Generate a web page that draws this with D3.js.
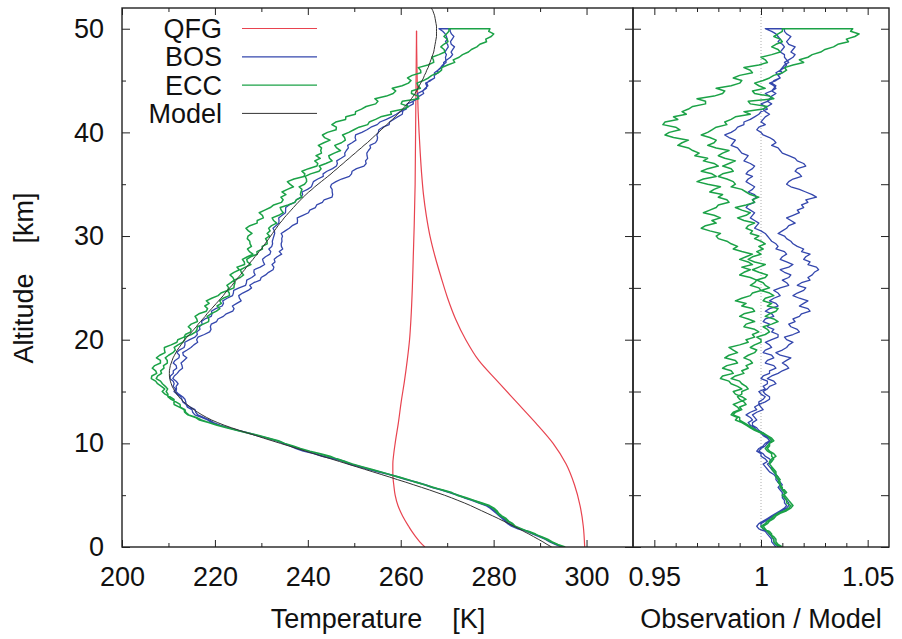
<!DOCTYPE html>
<html>
<head>
<meta charset="utf-8">
<script src="https://cdn.jsdelivr.net/npm/d3@7"></script>
<style>
body { margin: 0; background: #fff; }
svg text { font-family: "Liberation Sans", Arial, Helvetica, sans-serif; font-size: 27px; fill: #111; }
</style>
</head>
<body>
<svg id="chart" width="902" height="639"></svg>
<script>
// altitude grid (km), 0.25 km steps
const altitudeKm = [
  0,0.25,0.5,0.75,1,1.25,1.5,1.75,2,2.25,2.5,2.75,3,3.25,3.5,3.75,4,4.25,4.5,4.75,
  5,5.25,5.5,5.75,6,6.25,6.5,6.75,7,7.25,7.5,7.75,8,8.25,8.5,8.75,9,9.25,9.5,9.75,
  10,10.25,10.5,10.75,11,11.25,11.5,11.75,12,12.25,12.5,12.75,13,13.25,13.5,13.75,14,14.25,14.5,14.75,
  15,15.25,15.5,15.75,16,16.25,16.5,16.75,17,17.25,17.5,17.75,18,18.25,18.5,18.75,19,19.25,19.5,19.75,
  20,20.25,20.5,20.75,21,21.25,21.5,21.75,22,22.25,22.5,22.75,23,23.25,23.5,23.75,24,24.25,24.5,24.75,
  25,25.25,25.5,25.75,26,26.25,26.5,26.75,27,27.25,27.5,27.75,28,28.25,28.5,28.75,29,29.25,29.5,29.75,
  30,30.25,30.5,30.75,31,31.25,31.5,31.75,32,32.25,32.5,32.75,33,33.25,33.5,33.75,34,34.25,34.5,34.75,
  35,35.25,35.5,35.75,36,36.25,36.5,36.75,37,37.25,37.5,37.75,38,38.25,38.5,38.75,39,39.25,39.5,39.75,
  40,40.25,40.5,40.75,41,41.25,41.5,41.75,42,42.25,42.5,42.75,43,43.25,43.5,43.75,44,44.25,44.5,44.75,
  45,45.25,45.5,45.75,46,46.25,46.5,46.75,47,47.25,47.5,47.75,48,48.25,48.5,48.75,49,49.25,49.5,49.75,
  50,50.25,50.5,50.75,51,51.25,51.5,51.75,52
];

// model temperature (K) on the grid above
const modelTemp = [
  292.5,291.5,290.6,289.6,288.6,287.6,286.5,285.5,284.4,283.3,282.1,281.0,279.8,278.6,277.4,276.2,275.0,273.7,272.3,270.9,
  269.4,267.8,266.2,264.5,262.8,261.1,259.3,257.6,255.8,254.0,252.2,250.4,248.6,246.8,245.0,243.1,241.3,239.5,237.7,235.9,
  234.1,232.3,230.5,228.8,227.0,225.3,223.6,222.0,220.6,219.3,218.2,217.2,216.3,215.5,214.7,214.0,213.3,212.7,212.2,211.8,
  211.4,211.1,210.8,210.6,210.4,210.3,210.2,210.2,210.2,210.3,210.4,210.6,210.8,211.0,211.3,211.6,211.9,212.3,212.7,213.1,
  213.5,214.0,214.5,215.0,215.5,216.0,216.4,216.9,217.4,217.9,218.3,218.8,219.3,219.8,220.3,220.8,221.3,221.8,222.2,222.7,
  223.2,223.7,224.1,224.6,225.0,225.5,225.9,226.4,226.8,227.3,227.7,228.2,228.6,229.1,229.5,230.0,230.4,230.8,231.2,231.6,
  232.0,232.4,232.8,233.2,233.6,234.0,234.5,234.9,235.4,235.9,236.4,236.9,237.4,237.9,238.5,239.0,239.6,240.2,240.9,241.5,
  242.2,242.9,243.6,244.3,245.0,245.6,246.3,246.9,247.6,248.2,248.9,249.5,250.2,250.8,251.5,252.1,252.8,253.4,254.0,254.6,
  255.2,255.8,256.4,257.0,257.6,258.2,258.8,259.3,259.9,260.4,260.9,261.4,261.9,262.3,262.7,263.1,263.4,263.7,264.0,264.3,
  264.6,264.9,265.1,265.4,265.6,265.9,266.1,266.3,266.5,266.7,266.9,267.1,267.2,267.3,267.4,267.5,267.6,267.7,267.7,267.7,
  267.7,267.7,267.6,267.5,267.4,267.3,267.1,266.9,266.6
];

// observation / model, 0..50 km (ascent and descent legs)
const eccAscent = [
  1.009,1.007,1.006,1.006,1.005,1.005,1.004,1.001,1.000,1.002,1.003,1.005,1.006,1.008,1.011,1.013,1.014,1.012,1.012,1.011,
  1.010,1.012,1.011,1.009,1.009,1.009,1.008,1.007,1.007,1.006,1.005,1.005,1.004,1.005,1.006,1.005,1.005,1.003,1.002,1.003,
  1.004,1.006,1.005,1.003,1.000,0.997,0.995,0.993,0.991,0.988,0.989,0.986,0.987,0.990,0.989,0.987,0.990,0.993,0.991,0.988,
  0.987,0.991,0.989,0.986,0.985,0.981,0.982,0.987,0.986,0.982,0.984,0.989,0.988,0.983,0.985,0.989,0.987,0.985,0.990,0.994,
  0.993,0.997,0.996,0.999,0.997,0.992,0.993,0.997,0.994,0.990,0.992,0.997,0.996,0.991,0.993,0.988,0.991,0.995,0.996,1.000,
  0.999,0.995,0.997,0.998,0.995,0.990,0.992,0.995,0.991,0.996,0.994,0.990,0.993,0.996,0.991,0.987,0.989,0.986,0.984,0.980,
  0.979,0.981,0.976,0.972,0.974,0.979,0.977,0.981,0.978,0.973,0.976,0.979,0.980,0.985,0.984,0.980,0.982,0.976,0.978,0.981,
  0.975,0.970,0.973,0.979,0.977,0.972,0.975,0.980,0.978,0.973,0.975,0.969,0.971,0.968,0.966,0.961,0.963,0.966,0.959,0.955,
  0.957,0.962,0.960,0.954,0.955,0.961,0.959,0.965,0.963,0.966,0.968,0.974,0.974,0.970,0.978,0.982,0.983,0.979,0.986,0.990,
  0.991,0.987,0.990,0.996,0.995,0.992,0.999,1.003,1.002,1.000,1.005,1.009,1.008,1.005,1.007,1.010,1.009,1.006,1.008,1.010,
  1.010
];
const eccDescent = [
  1.010,1.008,1.007,1.007,1.006,1.004,1.003,1.002,1.001,1.003,1.004,1.006,1.007,1.009,1.012,1.014,1.015,1.014,1.013,1.012,
  1.011,1.011,1.010,1.010,1.009,1.008,1.009,1.008,1.007,1.007,1.006,1.005,1.004,1.004,1.005,1.007,1.006,1.004,1.003,1.004,
  1.004,1.005,1.004,1.003,1.001,0.998,0.996,0.994,0.992,0.990,0.990,0.987,0.988,0.991,0.990,0.993,0.992,0.990,0.989,0.991,
  0.991,0.994,0.993,0.991,0.990,0.986,0.988,0.992,0.991,0.994,0.993,0.996,0.995,0.992,0.994,0.997,0.998,0.995,0.997,1.000,
  1.000,0.998,1.002,1.004,1.003,1.001,1.005,1.008,1.006,1.002,1.004,1.007,1.008,1.003,1.005,1.001,1.002,1.006,1.004,1.000,
  1.004,1.002,1.001,0.998,1.002,1.003,0.999,0.996,0.999,1.002,0.997,0.994,0.996,1.000,0.998,1.001,0.999,1.002,1.000,0.997,
  0.999,0.995,0.996,0.993,0.994,0.997,0.992,0.989,0.993,0.995,0.991,0.988,0.993,0.997,0.996,0.999,0.995,0.993,0.991,0.986,
  0.988,0.987,0.984,0.980,0.982,0.987,0.986,0.982,0.985,0.988,0.983,0.980,0.982,0.985,0.979,0.975,0.978,0.979,0.976,0.972,
  0.975,0.977,0.979,0.984,0.983,0.986,0.988,0.995,0.992,1.001,1.003,0.995,0.994,1.006,1.004,0.997,0.996,1.002,0.999,0.997,
  1.001,1.004,1.006,1.010,1.012,1.011,1.015,1.020,1.018,1.022,1.024,1.028,1.030,1.034,1.036,1.041,1.040,1.044,1.046,1.042,
  1.043
];
const bosAscent = [
  1.007,1.006,1.005,1.005,1.004,1.003,1.002,0.999,0.998,0.999,1.001,1.003,1.005,1.007,1.009,1.011,1.012,1.011,1.011,1.010,
  1.010,1.010,1.009,1.008,1.009,1.008,1.007,1.007,1.006,1.004,1.003,1.002,1.001,1.003,1.002,1.000,1.000,0.998,0.999,1.001,
  1.002,1.004,1.003,1.001,1.000,0.998,0.997,0.995,0.994,0.996,0.995,0.993,0.995,0.998,0.997,0.999,0.999,1.001,1.002,1.000,
  0.999,1.002,1.001,1.003,1.003,1.000,1.001,1.004,1.004,1.007,1.006,1.002,1.003,1.006,1.005,1.001,1.002,1.005,1.004,1.002,
  1.005,1.008,1.008,1.005,1.006,1.003,1.004,1.001,1.002,1.006,1.005,1.002,1.004,1.008,1.007,1.004,1.006,1.009,1.008,1.006,
  1.009,1.013,1.012,1.010,1.013,1.014,1.011,1.009,1.013,1.015,1.012,1.009,1.010,1.012,1.011,1.007,1.008,1.007,1.005,1.004,
  1.003,1.002,1.000,0.997,0.998,0.999,0.997,0.995,0.996,0.997,0.995,0.993,0.994,0.997,0.996,0.998,0.997,0.994,0.996,0.997,
  0.995,0.993,0.994,0.996,0.993,0.994,0.996,0.997,0.995,0.992,0.993,0.994,0.991,0.990,0.989,0.986,0.987,0.988,0.985,0.983,
  0.986,0.988,0.989,0.992,0.992,0.995,0.997,0.999,1.000,1.003,1.002,1.000,1.003,1.005,1.004,1.002,1.005,1.007,1.006,1.004,
  1.007,1.009,1.008,1.007,1.009,1.011,1.012,1.011,1.013,1.015,1.016,1.014,1.015,1.016,1.013,1.012,1.013,1.014,1.012,1.011,
  1.011
];
const bosDescent = [
  1.008,1.007,1.006,1.006,1.005,1.004,1.003,1.001,1.000,1.000,1.002,1.004,1.006,1.008,1.010,1.012,1.013,1.013,1.012,1.011,
  1.011,1.011,1.010,1.009,1.010,1.009,1.008,1.008,1.007,1.006,1.005,1.004,1.003,1.005,1.004,1.002,1.001,0.999,1.000,1.002,
  1.003,1.005,1.004,1.002,1.001,0.999,0.998,0.996,0.996,0.998,0.997,0.996,0.998,1.001,1.000,0.999,1.002,1.004,1.004,1.002,
  1.001,1.003,1.004,1.007,1.006,1.003,1.005,1.008,1.010,1.013,1.012,1.010,1.012,1.014,1.009,1.007,1.010,1.012,1.013,1.015,
  1.012,1.011,1.015,1.018,1.017,1.014,1.013,1.016,1.015,1.018,1.019,1.023,1.022,1.018,1.020,1.022,1.018,1.015,1.017,1.020,
  1.021,1.017,1.019,1.023,1.022,1.024,1.025,1.027,1.026,1.022,1.023,1.020,1.021,1.023,1.019,1.020,1.017,1.015,1.014,1.012,
  1.011,1.008,1.010,1.012,1.013,1.016,1.014,1.012,1.015,1.018,1.017,1.020,1.019,1.022,1.021,1.026,1.024,1.021,1.018,1.014,
  1.012,1.013,1.015,1.019,1.018,1.016,1.017,1.021,1.020,1.017,1.016,1.013,1.010,1.009,1.008,1.005,1.007,1.006,1.004,1.001,
  1.000,0.998,0.999,1.002,1.000,1.001,1.002,1.004,1.002,1.001,1.003,1.005,1.003,1.004,1.005,1.007,1.005,1.006,1.007,1.005,
  1.006,1.009,1.008,1.010,1.009,1.010,1.011,1.013,1.012,1.011,1.011,1.009,1.010,1.011,1.010,1.008,1.009,1.008,1.007,1.005,
  1.002
];

// QFG profile: two legs, each listed with rising altitude
const qfgAltUp = [0,0.5,1,1.5,2,3,4,5,6,7,8,9,10,12,14,16,18,20,22,25,28,31,35,40,45,49.8];
const qfgTempUp = [265.2,264.1,263.2,262.4,261.7,260.4,259.4,258.8,258.5,258.3,258.3,258.5,258.8,259.5,260.1,260.8,261.4,261.9,262.2,262.5,262.7,262.9,263.1,263.2,263.3,263.4];
const qfgAltDown = [0,2,4,6,8,10,12,14,16,18,20,22,24,26,28,30,32,34,36,38,40,42,45,49.8];
const qfgTempDown = [299.6,299.3,298.6,297.4,295.6,292.8,289.0,284.9,280.8,276.8,274.0,271.8,270.1,268.7,267.4,266.3,265.5,264.9,264.5,264.2,263.95,263.75,263.55,263.4];

const seriesNames = ['QFG', 'BOS', 'ECC', 'Model'];
const seriesColors = ['#e8434f', '#3447ad', '#1ba247', '#333333'];

const tempMajor = [200, 220, 240, 260, 280, 300];
const tempMinor = [210, 230, 250, 270, 290];
const ratioMajor = [0.95, 1, 1.05];
const ratioMinor = [0.96, 0.97, 0.98, 0.99, 1.01, 1.02, 1.03, 1.04];
const altMajor = [0, 10, 20, 30, 40, 50];
const altMinor = [5, 15, 25, 35, 45];
const altAll = [0, 5, 10, 15, 20, 25, 30, 35, 40, 45, 50];

const svg = d3.select('#chart');

const yScale = d3.scaleLinear().domain([0, 52]).range([547, 8]);
const xTemp = d3.scaleLinear().domain([200, 310]).range([122, 633]);
const xRatio = d3.scaleLinear().domain([0.94, 1.06]).range([633, 889]);

// clip paths for the two panels
const defs = svg.append('defs');
defs.append('clipPath').attr('id', 'clipL').append('rect')
  .attr('x', 122).attr('y', 8).attr('width', 511).attr('height', 539);
defs.append('clipPath').attr('id', 'clipR').append('rect')
  .attr('x', 633).attr('y', 8).attr('width', 256).attr('height', 539);

// build profiles: ascent up to 50 km, then descent back down
function profile(up, down) {
  const pts = [];
  for (let i = 0; i < up.length; i++) {
    pts.push({ z: altitudeKm[i], r: up[i], t: up[i] * modelTemp[i] });
  }
  for (let i = down.length - 1; i >= 0; i--) {
    pts.push({ z: altitudeKm[i], r: down[i], t: down[i] * modelTemp[i] });
  }
  return pts;
}
const bosPts = profile(bosAscent, bosDescent);
const eccPts = profile(eccAscent, eccDescent);
const modelPts = modelTemp.map((t, i) => ({ z: altitudeKm[i], t: t }));
const qfgUp = qfgAltUp.map((z, i) => ({ z: z, t: qfgTempUp[i] }));
const qfgDown = qfgAltDown.map((z, i) => ({ z: z, t: qfgTempDown[i] }));

const lineT = d3.line().x(d => xTemp(d.t)).y(d => yScale(d.z));
const lineR = d3.line().x(d => xRatio(d.r)).y(d => yScale(d.z));
const smoothT = d3.line().x(d => xTemp(d.t)).y(d => yScale(d.z)).curve(d3.curveMonotoneY);

// left panel
const gl = svg.append('g').attr('clip-path', 'url(#clipL)');
[qfgUp, qfgDown].forEach(leg => {
  gl.append('path').datum(leg).attr('d', smoothT)
    .attr('fill', 'none').attr('stroke', seriesColors[0]).attr('stroke-width', 1.2);
});
gl.append('path').datum(bosPts).attr('d', lineT)
  .attr('fill', 'none').attr('stroke', seriesColors[1]).attr('stroke-width', 1.3)
  .attr('stroke-linejoin', 'round');
gl.append('path').datum(eccPts).attr('d', lineT)
  .attr('fill', 'none').attr('stroke', seriesColors[2]).attr('stroke-width', 1.5)
  .attr('stroke-linejoin', 'round');
gl.append('path').datum(modelPts).attr('d', lineT)
  .attr('fill', 'none').attr('stroke', seriesColors[3]).attr('stroke-width', 1);

// right panel
const gr = svg.append('g').attr('clip-path', 'url(#clipR)');
gr.append('line')
  .attr('x1', xRatio(1)).attr('x2', xRatio(1)).attr('y1', 8).attr('y2', 547)
  .attr('stroke', '#999').attr('stroke-width', 0.8).attr('stroke-dasharray', '1,2');
gr.append('path').datum(bosPts).attr('d', lineR)
  .attr('fill', 'none').attr('stroke', seriesColors[1]).attr('stroke-width', 1.3)
  .attr('stroke-linejoin', 'round');
gr.append('path').datum(eccPts).attr('d', lineR)
  .attr('fill', 'none').attr('stroke', seriesColors[2]).attr('stroke-width', 1.5)
  .attr('stroke-linejoin', 'round');

// axes (ticks pointing inwards)
function axis(gen, tx, ty, labels) {
  const g = svg.append('g').attr('transform', `translate(${tx},${ty})`).call(gen);
  g.select('.domain').remove();
  g.attr('font-size', null).attr('font-family', null).style('color', '#222');
  if (!labels) g.selectAll('text').remove();
  return g;
}
const fmt = d3.format('~g');
axis(d3.axisBottom(xTemp).tickValues(tempMajor).tickSize(-7).tickPadding(20).tickFormat(fmt), 0, 547, true);
axis(d3.axisBottom(xTemp).tickValues(tempMinor).tickSize(-4), 0, 547, false);
axis(d3.axisTop(xTemp).tickValues(tempMajor).tickSize(-7), 0, 8, false);
axis(d3.axisTop(xTemp).tickValues(tempMinor).tickSize(-4), 0, 8, false);
axis(d3.axisBottom(xRatio).tickValues(ratioMajor).tickSize(-7).tickPadding(20).tickFormat(fmt), 0, 547, true);
axis(d3.axisBottom(xRatio).tickValues(ratioMinor).tickSize(-4), 0, 547, false);
axis(d3.axisTop(xRatio).tickValues(ratioMajor).tickSize(-7), 0, 8, false);
axis(d3.axisTop(xRatio).tickValues(ratioMinor).tickSize(-4), 0, 8, false);
axis(d3.axisLeft(yScale).tickValues(altMajor).tickSize(-8).tickPadding(18).tickFormat(fmt), 122, 0, true);
axis(d3.axisLeft(yScale).tickValues(altMinor).tickSize(-4), 122, 0, false);
axis(d3.axisRight(yScale).tickValues(altMajor).tickSize(-8), 633, 0, false);
axis(d3.axisRight(yScale).tickValues(altMinor).tickSize(-4), 633, 0, false);
axis(d3.axisLeft(yScale).tickValues(altAll).tickSize(-8), 633, 0, false);
axis(d3.axisRight(yScale).tickValues(altAll).tickSize(-8), 889, 0, false);

// frames
svg.append('rect').attr('x', 122).attr('y', 8).attr('width', 511).attr('height', 539)
  .attr('fill', 'none').attr('stroke', '#222').attr('stroke-width', 1.4);
svg.append('rect').attr('x', 633).attr('y', 8).attr('width', 256).attr('height', 539)
  .attr('fill', 'none').attr('stroke', '#222').attr('stroke-width', 1.4);

// axis titles
svg.append('text').attr('x', 378).attr('y', 628).attr('text-anchor', 'middle')
  .style('white-space', 'pre').text('Temperature    [K]');
svg.append('text').attr('x', 761).attr('y', 628).attr('text-anchor', 'middle')
  .text('Observation / Model');
svg.append('text').attr('transform', 'translate(33,278) rotate(-90)').attr('text-anchor', 'middle')
  .style('white-space', 'pre').text('Altitude    [km]');

// legend
const legend = svg.append('g');
seriesNames.forEach((name, i) => {
  const y = 28.5 + i * 28.3;
  legend.append('text').attr('x', 222).attr('y', y + 9.6).attr('text-anchor', 'end').text(name);
  legend.append('line').attr('x1', 242).attr('x2', 317).attr('y1', y).attr('y2', y)
    .attr('stroke', seriesColors[i]).attr('stroke-width', i === 3 ? 1 : 1.2);
});
</script>
</body>
</html>
